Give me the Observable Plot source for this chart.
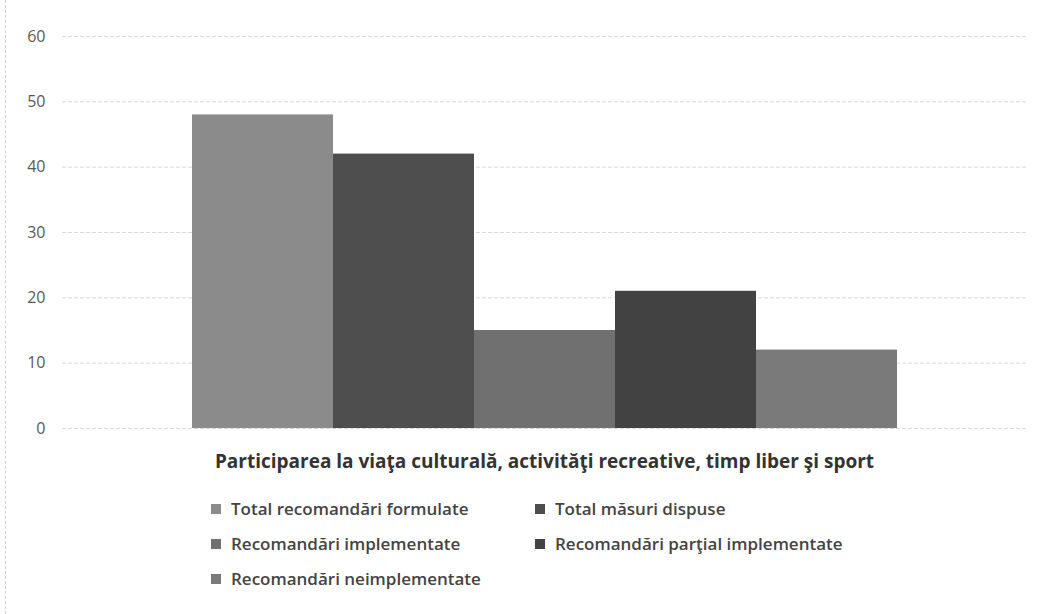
<!DOCTYPE html>
<html>
<head>
<meta charset="utf-8">
<script src="https://cdn.jsdelivr.net/npm/d3@7"></script>
<script src="https://cdn.jsdelivr.net/npm/@observablehq/plot@0.6"></script>
<style>
  html, body { margin: 0; padding: 0; background: #fff; }
  body { width: 1039px; height: 614px; position: relative; overflow: hidden; font-family: "Open Sans", sans-serif; }
  #border { position: absolute; left: 5px; top: 0; bottom: 0; border-left: 1px dashed #d0d0d0; }
  #chart { position: absolute; left: 0; top: 0; }
  #legend { position: absolute; left: 211px; top: 498px; display: grid; grid-template-columns: 324px 330px; row-gap: 14px; }
  .item { display: flex; align-items: center; font-size: 17px; font-weight: 600; color: #444; height: 21px; white-space: nowrap; }
  .sw { width: 10px; height: 10px; margin-right: 10px; display: inline-block; }
</style>
</head>
<body>
<div id="border"></div>
<div id="chart"></div>
<div id="legend"></div>
<script>
const category = "Participarea la viaţa culturală, activităţi recreative, timp liber şi sport";
const series = [
  "Total recomandări formulate",
  "Total măsuri dispuse",
  "Recomandări implementate",
  "Recomandări parţial implementate",
  "Recomandări neimplementate"
];
const values = [48, 42, 15, 21, 12];
const colors = ["#8b8b8b", "#4e4e4e", "#707070", "#424242", "#7a7a7a"];
const yTicks = [0, 10, 20, 30, 40, 50, 60];

const data = series.map((s, i) => ({category, series: s, value: values[i]}));

const chart = Plot.plot({
  width: 1039,
  height: 480,
  marginLeft: 62,
  marginRight: 13,
  marginTop: 36,
  marginBottom: 52,
  style: {fontFamily: "Open Sans, sans-serif", background: "transparent"},
  fx: {domain: [category], padding: 0, label: null},
  x: {domain: series, paddingInner: 0, paddingOuter: 0.9, axis: null},
  y: {domain: [0, 60], axis: null},
  color: {domain: series, range: colors},
  marks: [
    Plot.ruleY(yTicks, {stroke: "#d9d9d9", strokeDasharray: "4,2", strokeWidth: 1}),
    Plot.axisY(yTicks, {tickSize: 0, tickPadding: 17, fontSize: 16, fill: "#595959", anchor: "left", label: null}),
    Plot.barY(data, {fx: "category", x: "series", y: "value", fill: "series"}),
    Plot.axisFx({anchor: "bottom", tickSize: 0, tickPadding: 26, fontSize: 19, fontWeight: "bold", fill: "#333", label: null})
  ]
});
document.getElementById("chart").appendChild(chart);

const legend = document.getElementById("legend");
series.forEach((s, i) => {
  const d = document.createElement("div");
  d.className = "item";
  d.innerHTML = `<span class="sw" style="background:${colors[i]}"></span>${s}`;
  legend.appendChild(d);
});
</script>
</body>
</html>
